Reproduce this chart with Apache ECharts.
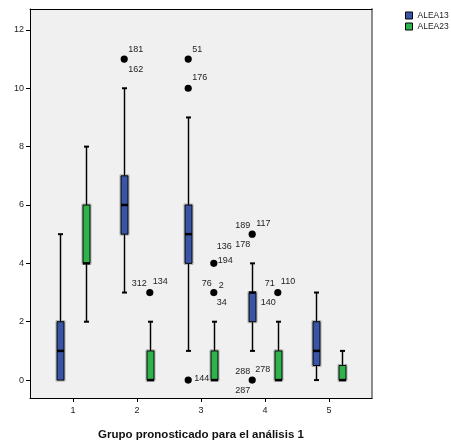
<!DOCTYPE html>
<html>
<head>
<meta charset="utf-8">
<script src="https://cdn.jsdelivr.net/npm/echarts@6/dist/echarts.min.js"></script>
<style>
html,body{margin:0;padding:0;background:#fff;}
#chart{width:451px;height:446px;}
</style>
</head>
<body>
<div id="chart"></div>
<script>
// ---- data ----
const categories = [1, 2, 3, 4, 5];
const seriesNames = ['ALEA13', 'ALEA23'];
// each box: [min, Q1, median, Q3, max]
const alea13Box = [[0, 0, 1, 2, 5], [3, 5, 6, 7, 10], [1, 4, 5, 6, 9], [1, 2, 3, 3, 4], [0, 0.5, 1, 2, 3]];
const alea23Box = [[2, 4, 4, 6, 8], [0, 0, 0, 1, 2], [0, 0, 0, 1, 2], [0, 0, 0, 1, 2], [0, 0, 0, 0.5, 1]];
// outliers: [category, value, case labels]
const alea13Outliers = [[2, 11, ['181', '162']], [3, 11, ['51']], [3, 10, ['176']], [3, 0, ['144']], [4, 5, ['189', '117', '178']], [4, 0, ['288', '278', '287']]];
const alea23Outliers = [[2, 3, ['312', '134']], [3, 4, ['136', '194']], [3, 3, ['76', '2', '34']], [4, 3, ['71', '110', '140']]];
const yTickValues = [0, 2, 4, 6, 8, 10, 12];
const xTickValues = [1, 2, 3, 4, 5];
const xTitle = 'Grupo pronosticado para el análisis 1';

// ---- styling / layout ----
const FONT = "'Liberation Sans', Arial, sans-serif";
const colors = ['#3a55a6', '#2cb34a'];
const groupOffset = [-0.2, 0.2];
// label placement relative to the outlier dot: [dx, dy, align]
const labelPlace = {
  '181': [4, -10, 'left'], '162': [4, 10, 'left'], '51': [4, -10, 'left'], '176': [4, -11, 'left'],
  '144': [6, -2, 'left'], '189': [-2, -9, 'right'], '117': [4, -11, 'left'], '178': [-2, 10, 'right'],
  '288': [-2, -9, 'right'], '278': [3, -11, 'left'], '287': [-2, 10, 'right'],
  '312': [-3, -9, 'right'], '134': [3, -11, 'left'], '136': [3, -17, 'left'], '194': [4, -3, 'left'],
  '76': [-2, -9, 'right'], '2': [5, -7, 'left'], '34': [3, 10, 'left'],
  '71': [-3, -9, 'right'], '110': [3, -11, 'left'], '140': [-2, 10, 'right']
};

function boxData(arr, gi) {
  return arr.map((b, i) => [categories[i] + groupOffset[gi]].concat(b));
}
function outlierData(arr, gi) {
  return arr.map(o => ({ value: [o[0] + groupOffset[gi], o[1]], cases: o[2] }));
}

function makeBoxRender(color) {
  return function (params, api) {
    const x = api.value(0);
    const pMin = api.coord([x, api.value(1)]);
    const pQ1 = api.coord([x, api.value(2)]);
    const pMed = api.coord([x, api.value(3)]);
    const pQ3 = api.coord([x, api.value(4)]);
    const pMax = api.coord([x, api.value(5)]);
    const cx = Math.round(pMin[0]) + 0.5;
    const hw = 3.5, cap = 2.5;
    const lineStyle = { stroke: '#000', lineWidth: 1 };
    const halo = { stroke: '#b8b8b8', lineWidth: 3 };
    const children = [];
    if (pMax[1] < pQ3[1]) children.push({ type: 'line', shape: { x1: cx, y1: pMax[1], x2: cx, y2: pQ3[1] }, style: halo });
    if (pMin[1] > pQ1[1]) children.push({ type: 'line', shape: { x1: cx, y1: pQ1[1], x2: cx, y2: pMin[1] }, style: halo });
    children.push({ type: 'rect', shape: { x: cx - hw - 1, y: pQ3[1] - 1, width: 2 * hw + 2, height: pQ1[1] - pQ3[1] + 2 }, style: { fill: 'none', stroke: '#aaaaaa', lineWidth: 1 } });
    if (pMax[1] < pQ3[1]) {
      children.push({ type: 'line', shape: { x1: cx, y1: pMax[1], x2: cx, y2: pQ3[1] }, style: lineStyle });
      children.push({ type: 'line', shape: { x1: cx - cap, y1: pMax[1], x2: cx + cap, y2: pMax[1] }, style: { stroke: '#000', lineWidth: 2 } });
    }
    if (pMin[1] > pQ1[1]) {
      children.push({ type: 'line', shape: { x1: cx, y1: pQ1[1], x2: cx, y2: pMin[1] }, style: lineStyle });
      children.push({ type: 'line', shape: { x1: cx - cap, y1: pMin[1], x2: cx + cap, y2: pMin[1] }, style: { stroke: '#000', lineWidth: 2 } });
    }
    children.push({ type: 'rect', shape: { x: cx - hw, y: pQ3[1], width: 2 * hw, height: pQ1[1] - pQ3[1] }, style: { fill: color, stroke: '#000', lineWidth: 1 } });
    children.push({ type: 'line', shape: { x1: cx - hw, y1: pMed[1], x2: cx + hw, y2: pMed[1] }, style: { stroke: '#000', lineWidth: 2.5 } });
    return { type: 'group', children: children };
  };
}

function renderOutlier(params, api) {
  const p = api.coord([api.value(0), api.value(1)]);
  const item = params.dataIndexInside;
  const cases = this.cases[item];
  const children = [{ type: 'circle', shape: { cx: p[0], cy: p[1], r: 3.6 }, style: { fill: '#000' } }];
  cases.forEach(c => {
    const pl = labelPlace[c] || [4, -10, 'left'];
    children.push({ type: 'text', x: p[0] + pl[0], y: p[1] + pl[1], style: { text: c, fill: '#222', font: '9px ' + FONT, align: pl[2], verticalAlign: 'middle' } });
  });
  return { type: 'group', children: children };
}

const series = [];
[alea13Box, alea23Box].forEach((arr, gi) => {
  series.push({
    type: 'custom', name: seriesNames[gi], xAxisIndex: 0, yAxisIndex: 0,
    itemStyle: { color: colors[gi] },
    renderItem: makeBoxRender(colors[gi]),
    encode: { x: 0, y: [1, 2, 3, 4, 5] },
    data: boxData(arr, gi), z: 3
  });
});
[alea13Outliers, alea23Outliers].forEach((arr, gi) => {
  const d = outlierData(arr, gi);
  const ctx = { cases: d.map(o => o.cases) };
  series.push({
    type: 'custom', name: seriesNames[gi] + ' outliers', xAxisIndex: 0, yAxisIndex: 0,
    renderItem: renderOutlier.bind(ctx),
    encode: { x: 0, y: 1 },
    data: d.map(o => o.value), z: 4
  });
});

const Y_MIN = -0.614, Y_MAX = 12.716, X_MIN = 0.328, X_MAX = 5.672;

const option = {
  animation: false,
  backgroundColor: '#ffffff',
  textStyle: { fontFamily: FONT },
  grid: { left: 30, top: 9, width: 342, height: 391, show: true, backgroundColor: '#f0f0f0', borderWidth: 0 },
  legend: {
    data: seriesNames.map((n, i) => ({ name: n, icon: 'rect', itemStyle: { color: colors[i], borderColor: '#000', borderWidth: 1 } })),
    orient: 'vertical', left: 405, top: 11, itemWidth: 7, itemHeight: 7, itemGap: 2, padding: 0,
    textStyle: { fontSize: 8.5, color: '#222', fontFamily: FONT, lineHeight: 9 }
  },
  xAxis: [{
    type: 'value', min: X_MIN, max: X_MAX, position: 'bottom',
    axisLine: { show: true, onZero: false, lineStyle: { color: '#000', width: 1 } },
    axisTick: { show: true, length: 4, customValues: xTickValues, lineStyle: { color: '#000' } },
    axisLabel: { customValues: xTickValues, fontSize: 9, color: '#222', margin: 8, fontFamily: FONT },
    splitLine: { show: false },
    name: xTitle, nameLocation: 'middle', nameGap: 31,
    nameTextStyle: { fontSize: 11.5, fontWeight: 'bold', color: '#111', fontFamily: FONT }
  }, {
    type: 'value', min: X_MIN, max: X_MAX, position: 'top',
    axisLine: { show: true, onZero: false, lineStyle: { color: '#000', width: 1 } },
    axisTick: { show: false }, axisLabel: { show: false }, splitLine: { show: false }
  }],
  yAxis: [{
    type: 'value', min: Y_MIN, max: Y_MAX, position: 'left',
    axisLine: { show: true, onZero: false, lineStyle: { color: '#000', width: 1 } },
    axisTick: { show: true, length: 4, customValues: yTickValues, lineStyle: { color: '#000' } },
    axisLabel: { customValues: yTickValues, fontSize: 9, color: '#222', margin: 6, fontFamily: FONT },
    splitLine: { show: false }
  }, {
    type: 'value', min: Y_MIN, max: Y_MAX, position: 'right',
    axisLine: { show: true, onZero: false, lineStyle: { color: '#8c8c8c', width: 2 } },
    axisTick: { show: false }, axisLabel: { show: false }, splitLine: { show: false }
  }],
  series: series
};

const chart = echarts.init(document.getElementById('chart'), null, { renderer: 'canvas' });
chart.setOption(option);
</script>
</body>
</html>
